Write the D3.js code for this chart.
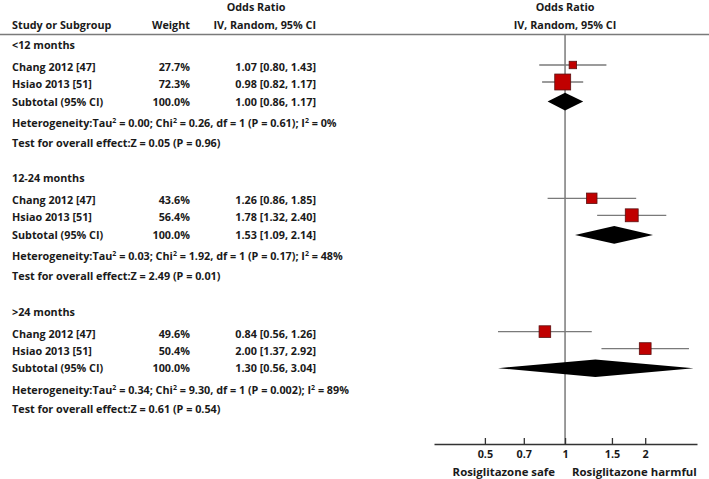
<!DOCTYPE html>
<html>
<head>
<meta charset="utf-8">
<script src="https://cdn.jsdelivr.net/npm/d3@7"></script>
<style>
  html, body { margin: 0; padding: 0; background: #fff; }
  svg { display: block; }
  text { font-family: "Open Sans", "Lato", sans-serif; font-weight: 700; fill: #1a1a1a; }
</style>
</head>
<body>
<script>
// ---- data ----
const subgroups = ["<12 months", "12-24 months", ">24 months"];
const studyNames = ["Chang 2012 [47]", "Hsiao 2013 [51]"];
const weights = [[27.7, 72.3], [43.6, 56.4], [49.6, 50.4]];
const oddsRatio = [[1.07, 0.98], [1.26, 1.78], [0.84, 2.00]];
const ciLower = [[0.80, 0.82], [0.86, 1.32], [0.56, 1.37]];
const ciUpper = [[1.43, 1.17], [1.85, 2.40], [1.26, 2.92]];
const subtotalOR = [1.00, 1.53, 1.30];
const subtotalLower = [0.86, 1.09, 0.56];
const subtotalUpper = [1.17, 2.14, 3.04];
const tau2 = ["0.00", "0.03", "0.34"];
const chi2 = ["0.26", "1.92", "9.30"];
const dfHet = [1, 1, 1];
const pHet = ["0.61", "0.17", "0.002"];
const i2 = [0, 48, 89];
const zValue = ["0.05", "2.49", "0.61"];
const pZ = ["0.96", "0.01", "0.54"];
const tickValues = [0.5, 0.7, 1, 1.5, 2];
const favoursLeft = "Rosiglitazone safe";
const favoursRight = "Rosiglitazone harmful";

// ---- layout ----
const W = 709, H = 479;
const fs = 10.8;
const svg = d3.select("body").append("svg").attr("width", W).attr("height", H);

const x = d3.scaleLog().domain([0.322, 3.13]).range([434, 697]);
const sizeScale = d3.scaleLinear().domain([0, 100]).range([2.2, 21.2]);
const groupY0 = 45, groupStep = 133.3;
const offsets = { s0: 22, s1: 39, sub: 56.6, het: 78, test: 97.8 };
const base = 4; // baseline shift from visual center
const colX = { name: 12, weight: 190, effect: 316 };
const fmt = d3.format(".2f");
const fmtW = d3.format(".1f");
const gray = "#7a7a7a";

// header
const hdr = svg.append("g");
hdr.append("text").attr("x", 256).attr("y", 11).attr("text-anchor", "middle").attr("font-size", fs).text("Odds Ratio");
hdr.append("text").attr("x", colX.name).attr("y", 29).attr("font-size", fs).text("Study or Subgroup");
hdr.append("text").attr("x", colX.weight).attr("y", 29).attr("text-anchor", "end").attr("font-size", fs).text("Weight");
hdr.append("text").attr("x", colX.effect).attr("y", 29).attr("text-anchor", "end").attr("font-size", fs).text("IV, Random, 95% CI");
hdr.append("text").attr("x", x(1)).attr("y", 11).attr("text-anchor", "middle").attr("font-size", fs).text("Odds Ratio");
hdr.append("text").attr("x", x(1)).attr("y", 29).attr("text-anchor", "middle").attr("font-size", fs).text("IV, Random, 95% CI");
svg.append("line").attr("x1", 0).attr("x2", W).attr("y1", 34.5).attr("y2", 34.5)
  .attr("stroke", gray).attr("stroke-width", 1.5);

// null line
svg.append("line").attr("x1", x(1)).attr("x2", x(1)).attr("y1", 34.5).attr("y2", 444)
  .attr("stroke", gray).attr("stroke-width", 1.5);

subgroups.forEach((g, gi) => {
  const gy = groupY0 + gi * groupStep;
  const grp = svg.append("g");
  grp.append("text").attr("x", colX.name).attr("y", gy + base).attr("font-size", fs).text(g);

  studyNames.forEach((s, si) => {
    const ty = gy + (si === 0 ? offsets.s0 : offsets.s1);
    grp.append("text").attr("x", colX.name).attr("y", ty + base).attr("font-size", fs).text(s);
    grp.append("text").attr("x", colX.weight).attr("y", ty + base).attr("text-anchor", "end").attr("font-size", fs)
      .text(fmtW(weights[gi][si]) + "%");
    grp.append("text").attr("x", colX.effect).attr("y", ty + base).attr("text-anchor", "end").attr("font-size", fs)
      .text(`${fmt(oddsRatio[gi][si])} [${fmt(ciLower[gi][si])}, ${fmt(ciUpper[gi][si])}]`);
    const my = ty - 2;
    grp.append("line").attr("x1", x(ciLower[gi][si])).attr("x2", x(ciUpper[gi][si]))
      .attr("y1", my).attr("y2", my).attr("stroke", gray).attr("stroke-width", 1.3);
    const sz = sizeScale(weights[gi][si]);
    grp.append("rect").attr("x", x(oddsRatio[gi][si]) - sz / 2).attr("y", my - sz / 2)
      .attr("width", sz).attr("height", sz).attr("fill", "#c00000").attr("stroke", "#5a1010").attr("stroke-width", 0.8);
  });

  const sy = gy + offsets.sub;
  grp.append("text").attr("x", colX.name).attr("y", sy + base).attr("font-size", fs).text("Subtotal (95% CI)");
  grp.append("text").attr("x", colX.weight).attr("y", sy + base).attr("text-anchor", "end").attr("font-size", fs)
    .text(fmtW(d3.sum(weights[gi])) + "%");
  grp.append("text").attr("x", colX.effect).attr("y", sy + base).attr("text-anchor", "end").attr("font-size", fs)
    .text(`${fmt(subtotalOR[gi])} [${fmt(subtotalLower[gi])}, ${fmt(subtotalUpper[gi])}]`);
  const dh = 8.8;
  const dpts = [[x(subtotalLower[gi]), sy], [x(subtotalOR[gi]), sy - dh], [x(subtotalUpper[gi]), sy], [x(subtotalOR[gi]), sy + dh]];
  grp.append("path").attr("d", d3.line()(dpts) + "Z").attr("fill", "#000");

  const hy = gy + offsets.het;
  const ht = grp.append("text").attr("x", colX.name).attr("y", hy + base).attr("font-size", fs);
  ht.append("tspan").text("Heterogeneity:Tau");
  ht.append("tspan").text("2").attr("font-size", 7).attr("dy", -4);
  ht.append("tspan").text(` = ${tau2[gi]}; Chi`).attr("dy", 4);
  ht.append("tspan").text("2").attr("font-size", 7).attr("dy", -4);
  ht.append("tspan").text(` = ${chi2[gi]}, df = ${dfHet[gi]} (P = ${pHet[gi]}); I`).attr("dy", 4);
  ht.append("tspan").text("2").attr("font-size", 7).attr("dy", -4);
  ht.append("tspan").text(` = ${i2[gi]}%`).attr("dy", 4);

  const zy = gy + offsets.test;
  grp.append("text").attr("x", colX.name).attr("y", zy + base).attr("font-size", fs)
    .text(`Test for overall effect:Z = ${zValue[gi]} (P = ${pZ[gi]})`);
});

// axis
const axis = d3.axisBottom(x).tickValues(tickValues).tickFormat(d => String(d))
  .tickSize(-6).tickSizeOuter(0).tickPadding(6);
const ax = svg.append("g").attr("transform", "translate(0,444)").call(axis);
ax.select(".domain").attr("stroke", "#333").attr("stroke-width", 1.3);
ax.selectAll(".tick line").attr("stroke", "#333").attr("stroke-width", 1.3);
ax.selectAll(".tick text").attr("font-size", fs).attr("font-family", "'Open Sans', sans-serif").attr("font-weight", 700).attr("fill", "#1a1a1a");

svg.append("text").attr("x", 555).attr("y", 476).attr("text-anchor", "end").attr("font-size", 11.4).text(favoursLeft);
svg.append("text").attr("x", 572).attr("y", 476).attr("text-anchor", "start").attr("font-size", 11.4).text(favoursRight);
</script>
</body>
</html>
